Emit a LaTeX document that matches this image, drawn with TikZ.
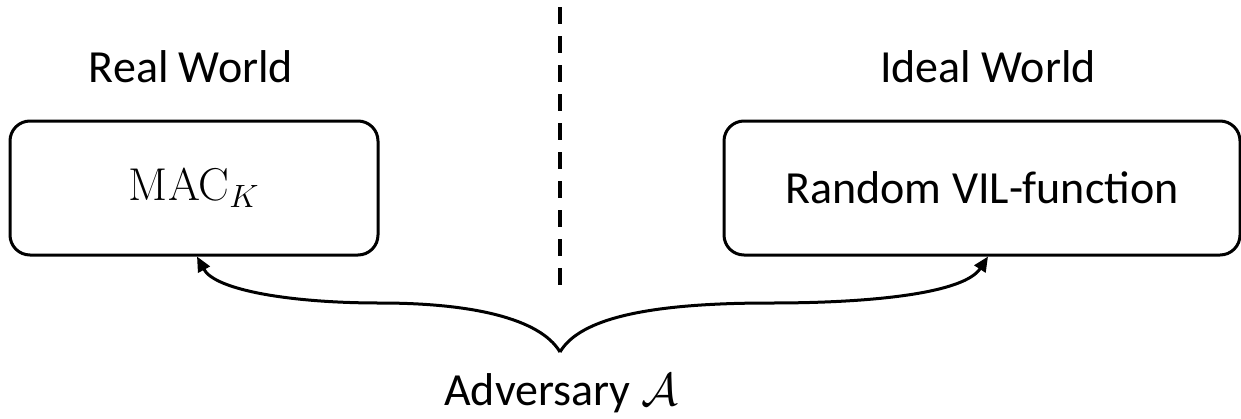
\documentclass[tikz,border=0pt]{standalone}
\usepackage{fix-cm}
\usepackage{fontspec}
\setmainfont{Carlito}
\newfontfamily\mserif{Latin Modern Roman}
\usetikzlibrary{arrows.meta}
\begin{document}
\begin{tikzpicture}[x=1pt,y=-1pt,
  world/.style={font=\fontsize{46}{55}\selectfont, anchor=base, inner sep=0pt},
  box/.style={draw, line width=3pt, rounded corners=20pt, minimum height=134pt, inner sep=0pt, font=\fontsize{46}{55}\selectfont},
  link/.style={line width=3pt, -{Triangle[length=15pt,width=13pt]}},
  divider/.style={line width=4pt, dash pattern=on 17pt off 12pt}]
\useasboundingbox (0,0) rectangle (1241,418);
\node[world] (realt) at (191,82) {Real World};
\node[world] (idealt) at (988,82) {Ideal World};
\node[box, minimum width=368pt] (realbox) at (194,188) {{\mserif MAC}$_K$};
\node[box, minimum width=516pt] (idealbox) at (982,188) {Random VIL-function};
\coordinate (top) at (560,7);
\coordinate (bot) at (560,285);
\draw[divider] (top) -- (bot);
\coordinate (tip) at (560,352);
\node[world] (adv) at (561,405) {Adversary $\mathcal{A}$};
\draw[link] (tip) .. controls (540,318) and (470,303) .. (380,303) .. controls (290,303) and (215,290) .. ([xshift=3pt]realbox.south);
\draw[link] (tip) .. controls (580,318) and (650,303) .. (770,303) .. controls (880,303) and (965,292) .. ([xshift=6pt]idealbox.south);
\end{tikzpicture}
\end{document}
